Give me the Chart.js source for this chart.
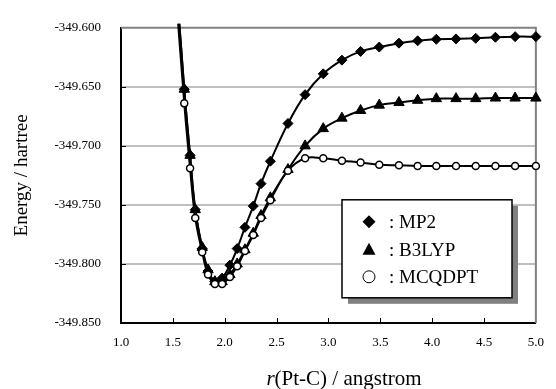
<!DOCTYPE html>
<html>
<head>
<meta charset="utf-8">
<script src="https://cdn.jsdelivr.net/npm/chart.js@4"></script>
<style>
  html, body { margin: 0; padding: 0; background: #fff; }
  #wrap { width: 556px; height: 389px; }
</style>
</head>
<body>
<div id="wrap"><canvas id="energyChart" width="556" height="389"></canvas></div>
<script>
// r(Pt-C) in angstrom, shared by the three curves (first point is above the plot top)
const rPtC = [1.52, 1.61, 1.666, 1.716, 1.783, 1.839, 1.905, 1.975, 2.05, 2.12, 2.195, 2.275, 2.35, 2.44,
              2.61, 2.775, 2.95, 3.13, 3.31, 3.49, 3.68, 3.86, 4.04, 4.23, 4.42, 4.61, 4.80, 5.0];

const mp2 = [-349.545, -349.652, -349.708, -349.754, -349.787, -349.806, -349.815, -349.812, -349.801, -349.787,
             -349.769, -349.751, -349.732, -349.713, -349.681, -349.6566, -349.639, -349.6274, -349.620,
             -349.6163, -349.613, -349.611, -349.6097, -349.6094, -349.6089, -349.608, -349.6075, -349.6075];

const b3lyp = [-349.545, -349.652, -349.708, -349.754, -349.786, -349.805, -349.815, -349.815, -349.809, -349.800,
               -349.788, -349.774, -349.759, -349.744, -349.720, -349.700, -349.6854, -349.6765, -349.670,
               -349.6655, -349.6633, -349.6614, -349.660, -349.660, -349.660, -349.6595, -349.6595, -349.6595];

const mcqdpt = [-349.560, -349.664, -349.719, -349.761, -349.790, -349.809, -349.817, -349.817, -349.811, -349.802,
                -349.789, -349.7755, -349.761, -349.746, -349.721, -349.7105, -349.7105, -349.7125, -349.714,
                -349.716, -349.7165, -349.717, -349.717, -349.717, -349.717, -349.717, -349.717, -349.717];

const seriesNames = ['MP2', 'B3LYP', 'MCQDPT'];
const xTicks = [1.0, 1.5, 2.0, 2.5, 3.0, 3.5, 4.0, 4.5, 5.0];
const yTicks = [-349.85, -349.80, -349.75, -349.70, -349.65, -349.60];

const SERIF = "'Liberation Serif', 'Times New Roman', serif";

function toPoints(vals) {
    return rPtC.map((r, i) => ({ x: r, y: vals[i] }));
}

// frame lines, inner tick marks, legend box, x title
const decorations = {
    id: 'decorations',
    beforeDatasetsDraw(chart) {
        const { ctx, chartArea: a, scales: { x, y } } = chart;
        ctx.save();
        // top + right frame (grey)
        ctx.strokeStyle = '#808080';
        ctx.lineWidth = 2;
        ctx.beginPath();
        ctx.moveTo(a.left, a.top);
        ctx.lineTo(a.right, a.top);
        ctx.lineTo(a.right, a.bottom);
        ctx.stroke();
        // inner tick marks
        ctx.strokeStyle = '#000';
        ctx.lineWidth = 1;
        ctx.beginPath();
        xTicks.slice(1, -1).forEach(v => {
            const px = Math.round(x.getPixelForValue(v)) + 0.5;
            ctx.moveTo(px, a.bottom);
            ctx.lineTo(px, a.bottom - 5);
        });
        yTicks.slice(1, -1).forEach(v => {
            const py = Math.round(y.getPixelForValue(v)) + 0.5;
            ctx.moveTo(a.left, py);
            ctx.lineTo(a.left + 5, py);
        });
        ctx.stroke();
        ctx.restore();
    },
    afterDraw(chart) {
        const { ctx, chartArea: a } = chart;
        ctx.save();

        // legend box with drop shadow
        const bx = a.left + 221, by = a.top + 172, bw = 170, bh = 98;
        ctx.fillStyle = '#808080';
        ctx.fillRect(bx + 6, by + 6, bw, bh);
        ctx.fillStyle = '#fff';
        ctx.fillRect(bx, by, bw, bh);
        ctx.strokeStyle = '#000';
        ctx.lineWidth = 1.5;
        ctx.strokeRect(bx, by, bw, bh);

        const rows = [by + 22, by + 50, by + 77];
        const mx = bx + 27;
        ctx.fillStyle = '#000';
        ctx.lineWidth = 1;
        // diamond
        ctx.beginPath();
        ctx.moveTo(mx, rows[0] - 6.5);
        ctx.lineTo(mx + 6.5, rows[0]);
        ctx.lineTo(mx, rows[0] + 6.5);
        ctx.lineTo(mx - 6.5, rows[0]);
        ctx.closePath();
        ctx.fill();
        // triangle
        ctx.beginPath();
        ctx.moveTo(mx, rows[1] - 7);
        ctx.lineTo(mx + 6.5, rows[1] + 5);
        ctx.lineTo(mx - 6.5, rows[1] + 5);
        ctx.closePath();
        ctx.fill();
        // open circle
        ctx.beginPath();
        ctx.arc(mx, rows[2], 6, 0, Math.PI * 2);
        ctx.stroke();

        ctx.font = '19px ' + SERIF;
        ctx.textBaseline = 'middle';
        ctx.textAlign = 'left';
        seriesNames.forEach((name, i) => {
            ctx.fillText(': ' + name, bx + 47, rows[i] + 1);
        });

        // x axis title, italic r
        const cx = a.left + 223, cy = 379;
        ctx.font = 'italic 21px ' + SERIF;
        const w1 = ctx.measureText('r').width;
        ctx.font = '21px ' + SERIF;
        const rest = '(Pt-C) / angstrom';
        const w2 = ctx.measureText(rest).width;
        const sx = cx - (w1 + w2) / 2;
        ctx.font = 'italic 21px ' + SERIF;
        ctx.fillText('r', sx, cy);
        ctx.font = '21px ' + SERIF;
        ctx.fillText(rest, sx + w1, cy);

        ctx.restore();
    }
};

// let edge markers show fully, line may poke a few px over the top like the original
const plotClip = { left: 2, top: 4, right: 8, bottom: 2 };

const ctx = document.getElementById('energyChart').getContext('2d');
new Chart(ctx, {
    type: 'line',
    data: {
        datasets: [
            {
                label: seriesNames[0],
                data: toPoints(mp2),
                borderColor: '#000',
                borderWidth: 2,
                pointStyle: 'rectRot',
                pointRadius: 5,
                pointBackgroundColor: '#000',
                pointBorderColor: '#000',
                pointBorderWidth: 1,
                tension: 0.4,
                clip: plotClip,
                order: 2
            },
            {
                label: seriesNames[1],
                data: toPoints(b3lyp),
                borderColor: '#000',
                borderWidth: 2,
                pointStyle: 'triangle',
                pointRadius: 6,
                pointBackgroundColor: '#000',
                pointBorderColor: '#000',
                pointBorderWidth: 1,
                tension: 0.4,
                clip: plotClip,
                order: 1
            },
            {
                label: seriesNames[2],
                data: toPoints(mcqdpt),
                borderColor: '#000',
                borderWidth: 2,
                pointStyle: 'circle',
                pointRadius: 3.5,
                pointBackgroundColor: '#fff',
                pointBorderColor: '#000',
                pointBorderWidth: 1.5,
                tension: 0.4,
                clip: plotClip,
                order: 0
            }
        ]
    },
    options: {
        responsive: false,
        devicePixelRatio: 1,
        animation: false,
        layout: { padding: { top: 21, right: 13, left: 0, bottom: 0 } },
        plugins: {
            legend: { display: false },
            tooltip: { enabled: false }
        },
        scales: {
            x: {
                type: 'linear',
                min: 1.0,
                max: 5.0,
                afterBuildTicks: s => { s.ticks = xTicks.map(v => ({ value: v })); },
                afterFit: s => { s.height = 66; },
                ticks: {
                    padding: 12,
                    maxRotation: 0,
                    color: '#000',
                    font: { family: SERIF, size: 13 },
                    callback: v => Number(v).toFixed(1)
                },
                grid: { display: false, drawTicks: false },
                border: { display: true, color: '#000', width: 2 }
            },
            y: {
                type: 'linear',
                min: -349.85,
                max: -349.60,
                afterBuildTicks: s => { s.ticks = yTicks.map(v => ({ value: v })); },
                afterFit: s => { s.width = 121; },
                ticks: {
                    padding: 20,
                    color: '#000',
                    font: { family: SERIF, size: 13 },
                    callback: v => Number(v).toFixed(3)
                },
                grid: {
                    drawTicks: false,
                    lineWidth: 2,
                    color: c => (c.index === 0 || c.index === yTicks.length - 1) ? 'rgba(0,0,0,0)' : '#c0c0c0'
                },
                border: { display: true, color: '#000', width: 2 },
                title: {
                    display: true,
                    text: 'Energy / hartree',
                    color: '#000',
                    font: { family: SERIF, size: 19 },
                    padding: { top: 11, bottom: 0 }
                }
            }
        }
    },
    plugins: [decorations]
});
</script>
</body>
</html>
